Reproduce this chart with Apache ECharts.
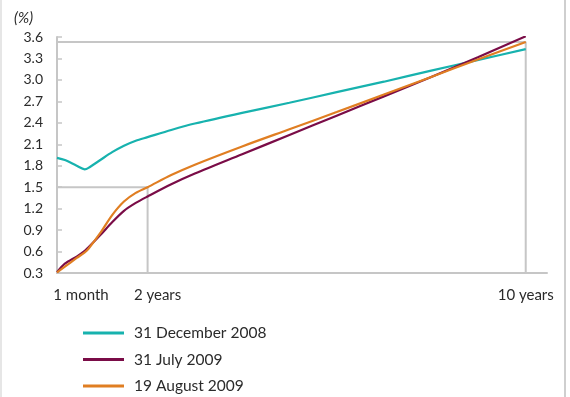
<!DOCTYPE html>
<html>
<head>
<meta charset="utf-8">
<script src="https://cdn.jsdelivr.net/npm/echarts@6/dist/echarts.min.js"></script>
<style>
  html, body { margin: 0; padding: 0; background: #fff; }
  #chart { width: 570px; height: 397px; }
</style>
</head>
<body>
<div id="chart"></div>
<script>
// maturities in years
var maturities = [1 / 12, 0.25, 0.5, 0.67, 0.75, 1, 1.25, 1.5, 1.75, 2, 2.5, 3, 4, 5, 6, 7, 8, 9, 10];
var dec2008 = [1.91, 1.88, 1.80, 1.75, 1.77, 1.88, 1.99, 2.08, 2.15, 2.20, 2.30, 2.39, 2.54, 2.68, 2.83, 2.975, 3.13, 3.28, 3.43];
var jul2009 = [0.31, 0.43, 0.53, 0.61, 0.66, 0.83, 1.01, 1.17, 1.28, 1.37, 1.54, 1.69, 1.96, 2.23, 2.50, 2.77, 3.04, 3.32, 3.61];
var aug2009 = [0.31, 0.39, 0.51, 0.59, 0.64, 0.86, 1.11, 1.30, 1.42, 1.50, 1.67, 1.815, 2.07, 2.31, 2.55, 2.795, 3.04, 3.29, 3.53];
var seriesNames = ['31 December 2008', '31 July 2009', '19 August 2009'];
var xTickValues = [1 / 12, 2, 10];
var xTickLabels = ['1 month', '2 years', '10 years'];

var yMin = 0.3, yMax = 3.6;
var font = 'Lato, "Open Sans", sans-serif';
var grey = '#c6c6c6';

function pairs(vals) {
  return maturities.map(function (m, i) { return [m, vals[i]]; });
}

// reference lines
var at2 = aug2009[maturities.indexOf(2)];
var at10 = aug2009[maturities.indexOf(10)];

var chart = echarts.init(document.getElementById('chart'));
chart.setOption({
  animation: false,
  textStyle: { fontFamily: font },
  grid: { left: 57, right: 23, top: 37, bottom: 124 },
  legend: {
    data: seriesNames,
    orient: 'vertical',
    left: 78,
    top: 318,
    height: 120,
    icon: 'rect',
    itemWidth: 41,
    itemHeight: 3,
    itemGap: 6.5,
    textStyle: { fontFamily: font, fontSize: 15.5, color: '#2b2b2b', lineHeight: 20, padding: [0, 0, 0, 5] }
  },
  xAxis: {
    type: 'value',
    min: 1 / 12,
    max: 10.45,
    splitLine: { show: false },
    axisTick: { show: false },
    axisLine: { onZero: false, lineStyle: { color: grey, width: 2 } },
    axisLabel: {
      customValues: xTickValues,
      margin: 15,
      fontSize: 15,
      color: '#2b2b2b',
      formatter: function (v) {
        var i = xTickValues.findIndex(function (t) { return Math.abs(t - v) < 1e-6; });
        if (i === 0) return '{a|' + xTickLabels[0] + '}';
        if (i === 1) return '{b|' + xTickLabels[1] + '}';
        return i < 0 ? '' : xTickLabels[i];
      },
      rich: {
        a: { fontFamily: font, fontSize: 15, color: '#2b2b2b', padding: [0, 0, 0, 48] },
        b: { fontFamily: font, fontSize: 15, color: '#2b2b2b', padding: [0, 0, 0, 20] }
      }
    }
  },
  yAxis: {
    type: 'value',
    min: yMin,
    max: yMax,
    interval: 0.3,
    name: '(%)',
    nameLocation: 'end',
    nameGap: 11,
    nameTextStyle: { fontFamily: font, fontSize: 15, fontStyle: 'italic', color: '#2b2b2b', align: 'right', verticalAlign: 'bottom', padding: [0, 24, 0, 0] },
    splitLine: { show: false },
    axisLine: { show: true, lineStyle: { color: grey, width: 2 } },
    axisTick: { show: true, inside: true, length: 5, lineStyle: { color: grey, width: 1.5 } },
    axisLabel: {
      margin: 14,
      fontSize: 14,
      color: '#2b2b2b',
      formatter: function (v) { return v.toFixed(1); }
    }
  },
  series: [
    {
      type: 'line', silent: true, symbol: 'none', z: 1,
      lineStyle: { color: grey, width: 2 },
      data: [[1 / 12, at2], [2, at2], [2, yMin]]
    },
    {
      type: 'line', silent: true, symbol: 'none', z: 1,
      lineStyle: { color: grey, width: 2 },
      data: [[1 / 12, at10], [10, at10], [10, yMin]]
    },
    {
      name: seriesNames[0], type: 'line', symbol: 'none', smooth: 0.3, z: 3,
      color: '#17b2ae', lineStyle: { width: 2.2 },
      data: pairs(dec2008)
    },
    {
      name: seriesNames[1], type: 'line', symbol: 'none', smooth: 0.3, z: 4,
      color: '#7a0c47', lineStyle: { width: 2.2 },
      data: pairs(jul2009)
    },
    {
      name: seriesNames[2], type: 'line', symbol: 'none', smooth: 0.3, z: 5,
      color: '#e07e22', lineStyle: { width: 2.2 },
      data: pairs(aug2009)
    }
  ],
  graphic: [
    { type: 'line', shape: { x1: 1, y1: 0, x2: 1, y2: 397 }, style: { stroke: '#e6e6e6', lineWidth: 2 } },
    { type: 'line', shape: { x1: 565, y1: 0, x2: 565, y2: 397 }, style: { stroke: '#cfcfcf', lineWidth: 2 } }
  ]
});
</script>
</body>
</html>
